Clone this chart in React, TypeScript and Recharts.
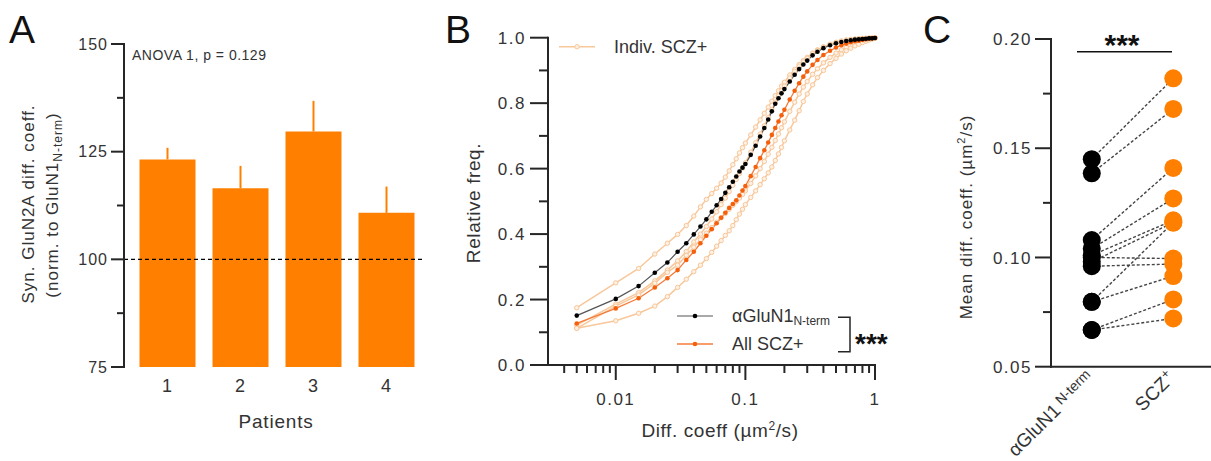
import React from 'react';
import { BarChart, Bar, XAxis, YAxis, ReferenceLine, ErrorBar, LineChart, Line } from 'recharts';

const FONT = '"Liberation Sans", Arial, Helvetica, sans-serif';
const AXIS = '#262626';
const TXT = '#333333';
const BAR = '#FF8000';
const LIGHT = '#F8C79A';
const ORANGE_LINE = '#F47B3A';
const ORANGE_DOT = '#F4600C';

// ---------- Panel A ----------
const patients = ['1', '2', '3', '4'];
const patientMeans = [123.2, 116.5, 129.7, 110.8];
const patientSem = [2.7, 5.2, 7.1, 6.1];
const aDomain = [75, 150];
const aTicks = [75, 87.5, 100, 112.5, 125, 137.5, 150];
const aMajorTicks = [75, 100, 125, 150];

// ---------- Panel B ----------
const diffX = [
  0.005, 0.01, 0.015, 0.02, 0.025, 0.03, 0.035, 0.04, 0.045, 0.05,
  0.055, 0.06, 0.065, 0.07, 0.075, 0.08, 0.085, 0.09, 0.095, 0.1,
  0.11, 0.12, 0.13, 0.14, 0.15, 0.16, 0.17, 0.18, 0.19, 0.2,
  0.22, 0.24, 0.26, 0.28, 0.3, 0.33, 0.36, 0.4, 0.45, 0.5,
  0.55, 0.6, 0.65, 0.7, 0.75, 0.8, 0.85, 0.9, 0.95, 1.0,
];
const cdfGluN1 = [
  0.151, 0.202, 0.241, 0.282, 0.313, 0.346, 0.372, 0.399, 0.423, 0.445,
  0.468, 0.488, 0.507, 0.526, 0.543, 0.560, 0.576, 0.591, 0.603, 0.614,
  0.642, 0.670, 0.698, 0.724, 0.750, 0.775, 0.798, 0.815, 0.830, 0.843,
  0.866, 0.887, 0.904, 0.918, 0.930, 0.946, 0.957, 0.968, 0.977, 0.983,
  0.987, 0.990, 0.992, 0.994, 0.995, 0.996, 0.997, 0.998, 0.998, 0.999,
];
const cdfAllScz = [
  0.127, 0.173, 0.204, 0.237, 0.265, 0.290, 0.321, 0.346, 0.372, 0.395,
  0.415, 0.433, 0.450, 0.465, 0.480, 0.492, 0.503, 0.518, 0.533, 0.547,
  0.577, 0.605, 0.632, 0.656, 0.680, 0.703, 0.724, 0.744, 0.763, 0.780,
  0.811, 0.838, 0.861, 0.881, 0.897, 0.917, 0.932, 0.947, 0.960, 0.970,
  0.977, 0.982, 0.986, 0.989, 0.991, 0.993, 0.995, 0.997, 0.998, 0.999,
];
const cdfIndiv1 = [
  0.175, 0.251, 0.295, 0.339, 0.372, 0.399, 0.426, 0.455, 0.483, 0.506,
  0.524, 0.540, 0.556, 0.574, 0.593, 0.612, 0.630, 0.648, 0.664, 0.678,
  0.703, 0.727, 0.749, 0.769, 0.788, 0.806, 0.823, 0.838, 0.852, 0.864,
  0.886, 0.903, 0.918, 0.930, 0.940, 0.953, 0.963, 0.972, 0.980, 0.986,
  0.990, 0.993, 0.995, 0.996, 0.997, 0.998, 0.998, 0.999, 0.999, 1.0,
];
const cdfIndiv2 = [
  0.122, 0.186, 0.221, 0.257, 0.290, 0.318, 0.347, 0.376, 0.400, 0.423,
  0.446, 0.468, 0.490, 0.510, 0.530, 0.549, 0.567, 0.585, 0.602, 0.618,
  0.650, 0.679, 0.706, 0.731, 0.756, 0.780, 0.803, 0.822, 0.838, 0.852,
  0.877, 0.897, 0.913, 0.926, 0.937, 0.951, 0.961, 0.971, 0.979, 0.985,
  0.989, 0.992, 0.994, 0.995, 0.996, 0.997, 0.998, 0.998, 0.999, 1.0,
];
const cdfIndiv3 = [
  0.112, 0.180, 0.214, 0.250, 0.283, 0.305, 0.335, 0.360, 0.383, 0.403,
  0.420, 0.436, 0.450, 0.463, 0.476, 0.488, 0.499, 0.510, 0.521, 0.532,
  0.555, 0.578, 0.600, 0.622, 0.644, 0.665, 0.686, 0.706, 0.725, 0.743,
  0.775, 0.803, 0.828, 0.849, 0.866, 0.888, 0.905, 0.923, 0.940, 0.953,
  0.963, 0.971, 0.977, 0.982, 0.986, 0.989, 0.992, 0.995, 0.997, 0.999,
];
const cdfIndiv4 = [
  0.112, 0.135, 0.158, 0.180, 0.209, 0.237, 0.262, 0.285, 0.305, 0.325,
  0.344, 0.363, 0.380, 0.396, 0.410, 0.426, 0.444, 0.461, 0.476, 0.490,
  0.512, 0.532, 0.551, 0.569, 0.587, 0.605, 0.625, 0.645, 0.665, 0.685,
  0.718, 0.748, 0.777, 0.805, 0.828, 0.856, 0.878, 0.900, 0.921, 0.937,
  0.950, 0.960, 0.968, 0.975, 0.980, 0.985, 0.989, 0.993, 0.996, 0.998,
];
const bXDomain = [0.003, 1];
const bYDomain = [0, 1];
const bXTicks = [
  0.004, 0.005, 0.006, 0.007, 0.008, 0.009, 0.01,
  0.02, 0.03, 0.04, 0.05, 0.06, 0.07, 0.08, 0.09, 0.1,
  0.2, 0.3, 0.4, 0.5, 0.6, 0.7, 0.8, 0.9, 1,
];
const bXMajor = [0.01, 0.1, 1];
const bYTicks = [0, 0.1, 0.2, 0.3, 0.4, 0.5, 0.6, 0.7, 0.8, 0.9, 1.0];
const bYMajor = [0, 0.2, 0.4, 0.6, 0.8, 1.0];

// ---------- Panel C ----------
const pairGluN1 = [0.145, 0.1385, 0.108, 0.104, 0.101, 0.098, 0.100, 0.096, 0.0797, 0.0797, 0.0668, 0.0668];
const pairScz = [0.182, 0.168, 0.141, 0.127, 0.117, 0.116, 0.0995, 0.097, 0.116, 0.0915, 0.0808, 0.0721];
const cGroups = [1, 2];
const cXDomain = [0.5, 2.45];
const cYDomain = [0.05, 0.2];
const cYTicks = [0.05, 0.075, 0.1, 0.125, 0.15, 0.175, 0.2];
const cYMajor = [0.05, 0.1, 0.15, 0.2];

// ---------- layout (chart boxes) ----------
const A_BOX = { left: 0, width: 440, height: 461, margin: { top: 44, right: 17.5, bottom: 64, left: 64 }, yAxisW: 60, xAxisH: 30 };
const B_BOX = { left: 440, width: 460, height: 461, margin: { top: 37.7, right: 25, bottom: 56, left: 48 }, yAxisW: 60, xAxisH: 40 };
const C_BOX = { left: 900, width: 311, height: 461, margin: { top: 39, right: 1, bottom: 34.3, left: 91 }, yAxisW: 60, xAxisH: 60 };

const plotRect = (b: any) => {
  const x0 = b.left + b.margin.left + b.yAxisW;
  const x1 = b.left + b.width - b.margin.right;
  const y0 = b.margin.top;
  const y1 = b.height - b.margin.bottom - b.xAxisH;
  return { x0, x1, y0, y1 };
};
const PA = plotRect(A_BOX);
const PB = plotRect(B_BOX);
const PC = plotRect(C_BOX);
const linY = (p: any, d: number[]) => (v: number) => p.y0 + ((d[1] - v) / (d[1] - d[0])) * (p.y1 - p.y0);
const logX = (p: any, d: number[]) => (v: number) =>
  p.x0 + ((Math.log10(v) - Math.log10(d[0])) / (Math.log10(d[1]) - Math.log10(d[0]))) * (p.x1 - p.x0);
const yA = linY(PA, aDomain);
const yB = linY(PB, bYDomain);
const xB = logX(PB, bXDomain);
const yC = linY(PC, cYDomain);

// ---------- derived tables ----------
const barRows = patients.map((p, i) => ({ patient: p, mean: patientMeans[i], err: [0, patientSem[i]] }));
const cdfRows = diffX.map((x, i) => ({
  x,
  glun1: cdfGluN1[i],
  all: cdfAllScz[i],
  s1: cdfIndiv1[i],
  s2: cdfIndiv2[i],
  s3: cdfIndiv3[i],
  s4: cdfIndiv4[i],
}));
const pairRows = cGroups.map((g) => {
  const row: any = { x: g };
  pairGluN1.forEach((v, i) => {
    row[`p${i}`] = g === 1 ? v : pairScz[i];
  });
  return row;
});

const isIn = (list: number[], v: number) => list.some((m) => Math.abs(m - v) < 1e-9);

// y-axis tick labels (tickSize = len, tickMargin = 0 => axisX = x + len)
const makeYLabel = (major: number[], len: number, gap: number, fmt: (v: number) => string, fs: number, ls: number) =>
  (props: any) => {
    const { x, y, payload, index } = props;
    const axisX = Number(x) + len;
    if (!isIn(major, payload.value)) return <g key={`yt${index}`} />;
    return (
      <text key={`yt${index}`} x={axisX - gap} y={Number(y)} dy="0.36em" textAnchor="end" fontSize={fs} fill={TXT} stroke="none" fontFamily={FONT} style={{ letterSpacing: ls }}>
        {fmt(payload.value)}
      </text>
    );
  };

const aYTick = makeYLabel(aMajorTicks, 13, 16, (v) => String(v), 16, 1);
const bYTick = makeYLabel(bYMajor, 18, 22, (v) => v.toFixed(1), 17, 1.5);
const cYTick = makeYLabel(cYMajor, 16, 19, (v) => v.toFixed(2), 17, 1.5);

const aXTick = (props: any) => {
  const { x, y, payload, index } = props;
  return (
    <text key={`ax${index}`} x={x} y={Number(y) + 24.5} textAnchor="middle" fontSize={18} fill={TXT} stroke="none" fontFamily={FONT}>
      {payload.value}
    </text>
  );
};

const bXTick = (props: any) => {
  const { x, y, payload, index } = props;
  const axisY = Number(y) - 15;
  if (!isIn(bXMajor, payload.value)) return <g key={`bx${index}`} />;
  return (
    <text key={`bx${index}`} x={Number(x)} y={axisY + 40} textAnchor="middle" fontSize={17} fill={TXT} stroke="none" fontFamily={FONT} style={{ letterSpacing: 1.5 }}>
      {String(payload.value)}
    </text>
  );
};

const cXTick = (props: any) => {
  const { x, y, payload, index } = props;
  const tx = Number(x) + 3;
  const ty = Number(y) + 12;
  if (payload.value === 1) {
    return (
      <text key={`cx${index}`} x={tx} y={ty} textAnchor="end" transform={`rotate(-45, ${tx}, ${ty})`} fontSize={19} fill={TXT} stroke="none" fontFamily={FONT}>
        αGluN1
        <tspan fontSize={14} dx={4} dy={-5}>N-term</tspan>
      </text>
    );
  }
  return (
    <text key={`cx${index}`} x={tx} y={ty} textAnchor="end" transform={`rotate(-45, ${tx}, ${ty})`} fontSize={19} fill={TXT} stroke="none" fontFamily={FONT} style={{ letterSpacing: 0.5 }}>
      SCZ
      <tspan fontSize={13} dy={-7}>+</tspan>
    </text>
  );
};

const cDot = (props: any) => {
  const { cx, cy, payload, index } = props;
  if (cx == null || cy == null) return <g key={`cd${index}`} />;
  return <circle key={`cd${index}`} cx={cx} cy={cy} r={9} fill={payload.x === 1 ? '#000000' : BAR} />;
};

const lightDot = { r: 2.2, fill: '#FFF1E4', stroke: LIGHT, strokeWidth: 1 };

// axis guides (lines + tick marks) drawn on top
const YGuide = ({ p, ticks, major, scale, len, minorLen }: any) => (
  <g stroke={AXIS} strokeWidth={2} fill="none">
    <line x1={p.x0} x2={p.x0} y1={p.y0} y2={p.y1} strokeLinecap="square" />
    {ticks.map((t: number, i: number) => {
      const L = isIn(major, t) ? len : minorLen;
      return <line key={i} x1={p.x0 - L} x2={p.x0} y1={scale(t)} y2={scale(t)} />;
    })}
  </g>
);

export default function App() {
  return (
    <div style={{ position: 'absolute', left: 0, top: 0, width: 1211, height: 461, overflow: 'hidden', background: '#ffffff', fontFamily: FONT }}>
      {/* Panel A */}
      <div style={{ position: 'absolute', left: A_BOX.left, top: 0 }}>
        <BarChart width={A_BOX.width} height={A_BOX.height} data={barRows} margin={A_BOX.margin}>
          <XAxis dataKey="patient" axisLine={false} tickLine={false} tickSize={0} tickMargin={0} height={A_BOX.xAxisH} padding={{ left: 6.5, right: 0 }} interval={0} tick={aXTick} />
          <YAxis type="number" domain={aDomain} ticks={aTicks} interval={0} width={A_BOX.yAxisW} tickSize={13} tickMargin={0} tickLine={false} axisLine={false} tick={aYTick} />
          <Bar dataKey="mean" fill={BAR} barSize={56} isAnimationActive={false}>
            <ErrorBar dataKey="err" direction="y" width={0} stroke={BAR} strokeWidth={2} />
          </Bar>
          <ReferenceLine y={100} stroke="#000000" strokeDasharray="4 3" strokeWidth={1.2} />
        </BarChart>
      </div>

      {/* Panel B */}
      <div style={{ position: 'absolute', left: B_BOX.left, top: 0 }}>
        <LineChart width={B_BOX.width} height={B_BOX.height} data={cdfRows} margin={B_BOX.margin}>
          <XAxis dataKey="x" type="number" scale="log" domain={bXDomain} ticks={bXTicks} interval={0} height={B_BOX.xAxisH} tickSize={15} tickMargin={0} tickLine={false} axisLine={false} tick={bXTick} />
          <YAxis type="number" domain={bYDomain} ticks={bYTicks} interval={0} width={B_BOX.yAxisW} tickSize={18} tickMargin={0} tickLine={false} axisLine={false} tick={bYTick} />
          <Line dataKey="s1" stroke={LIGHT} strokeWidth={1.5} dot={lightDot} isAnimationActive={false} />
          <Line dataKey="s2" stroke={LIGHT} strokeWidth={1.5} dot={lightDot} isAnimationActive={false} />
          <Line dataKey="s3" stroke={LIGHT} strokeWidth={1.5} dot={lightDot} isAnimationActive={false} />
          <Line dataKey="s4" stroke={LIGHT} strokeWidth={1.5} dot={lightDot} isAnimationActive={false} />
          <Line dataKey="all" stroke={ORANGE_LINE} strokeWidth={1.3} dot={{ r: 2.3, fill: ORANGE_DOT, stroke: 'none' }} isAnimationActive={false} />
          <Line dataKey="glun1" stroke="#555555" strokeWidth={1.2} dot={{ r: 2.3, fill: '#000000', stroke: 'none' }} isAnimationActive={false} />
        </LineChart>
      </div>

      {/* Panel C */}
      <div style={{ position: 'absolute', left: C_BOX.left, top: 0 }}>
        <LineChart width={C_BOX.width} height={C_BOX.height} data={pairRows} margin={C_BOX.margin}>
          <XAxis dataKey="x" type="number" domain={cXDomain} ticks={cGroups} interval={0} height={C_BOX.xAxisH} tickSize={0} tickMargin={0} tickLine={false} axisLine={false} tick={cXTick} />
          <YAxis type="number" domain={cYDomain} ticks={cYTicks} interval={0} width={C_BOX.yAxisW} tickSize={16} tickMargin={0} tickLine={false} axisLine={false} tick={cYTick} />
          {pairGluN1.map((_, i) => (
            <Line key={`l${i}`} dataKey={`p${i}`} stroke="#444444" strokeWidth={1.4} strokeDasharray="3 2" dot={false} isAnimationActive={false} />
          ))}
          {pairGluN1.map((_, i) => (
            <Line key={`d${i}`} dataKey={`p${i}`} stroke="none" dot={cDot} isAnimationActive={false} />
          ))}
        </LineChart>
      </div>

      {/* Overlay: axis guides and texts */}
      <svg width={1211} height={461} style={{ position: 'absolute', left: 0, top: 0, pointerEvents: 'none' }} fontFamily={FONT}>
        <YGuide p={PA} ticks={aTicks} major={aMajorTicks} scale={yA} len={13} minorLen={7} />
        <YGuide p={PB} ticks={bYTicks} major={bYMajor} scale={yB} len={18} minorLen={9} />
        <YGuide p={PC} ticks={cYTicks} major={cYMajor} scale={yC} len={16} minorLen={8} />
        <g stroke={AXIS} strokeWidth={2} fill="none">
          <line x1={PB.x0} x2={PB.x1} y1={PB.y1} y2={PB.y1} strokeLinecap="square" />
          {bXTicks.map((t, i) => (
            <line key={i} x1={xB(t)} x2={xB(t)} y1={PB.y1} y2={PB.y1 + (isIn(bXMajor, t) ? 15 : 8)} />
          ))}
          <line x1={PC.x0} x2={PC.x1} y1={PC.y1} y2={PC.y1} strokeLinecap="square" />
        </g>

        <text x={9} y={43} fontSize={39} fill="#111">A</text>
        <text x={445} y={43} fontSize={39} fill="#111">B</text>
        <text x={923} y={43} fontSize={39} fill="#111">C</text>

        {/* Panel A texts */}
        <text x={132} y={60} fontSize={14} fill={TXT} style={{ letterSpacing: 0.5 }}>ANOVA 1, p = 0.129</text>
        <text x={34} y={204} transform="rotate(-90, 34, 204)" textAnchor="middle" fontSize={17} fill={TXT} style={{ letterSpacing: 1 }}>
          Syn. GluN2A diff. coeff.
        </text>
        <text x={58} y={205} transform="rotate(-90, 58, 205)" textAnchor="middle" fontSize={17} fill={TXT} style={{ letterSpacing: 1 }}>
          (norm. to GluN1
          <tspan fontSize={12} dy={4}>N-term</tspan>
          <tspan dy={-4}>)</tspan>
        </text>
        <text x={276} y={427.5} textAnchor="middle" fontSize={19} fill={TXT} style={{ letterSpacing: 0.8 }}>Patients</text>

        {/* Panel B texts */}
        <text x={480} y={203} transform="rotate(-90, 480, 203)" textAnchor="middle" fontSize={19} fill={TXT} style={{ letterSpacing: 0.6 }}>Relative freq.</text>
        <text x={720} y={436.5} textAnchor="middle" fontSize={19} fill={TXT} style={{ letterSpacing: 0.6 }}>
          Diff. coeff (µm
          <tspan fontSize={12} dy={-7}>2</tspan>
          <tspan dy={7}>/s)</tspan>
        </text>
        <line x1={559} x2={595} y1={46.7} y2={46.7} stroke={LIGHT} strokeWidth={1.5} />
        <circle cx={577} cy={46.7} r={2.2} fill="#FFF1E4" stroke={LIGHT} strokeWidth={1} />
        <text x={614} y={53} fontSize={18} fill={TXT}>Indiv. SCZ+</text>
        <line x1={677} x2={713} y1={316} y2={316} stroke="#555555" strokeWidth={1.2} />
        <circle cx={695} cy={316} r={2.3} fill="#000" />
        <text x={732} y={322} fontSize={18} fill={TXT}>
          αGluN1
          <tspan fontSize={12} dy={3}>N-term</tspan>
        </text>
        <line x1={677} x2={713} y1={344} y2={344} stroke={ORANGE_LINE} strokeWidth={1.3} />
        <circle cx={695} cy={344} r={2.3} fill={ORANGE_DOT} />
        <text x={732} y={350} fontSize={18} fill={TXT}>All SCZ+</text>
        <path d="M838 317.3 H850 V351.7 H838" fill="none" stroke={AXIS} strokeWidth={1.5} />
        <text x={855} y={353} fontSize={28} fontWeight="bold" fill="#111">***</text>

        {/* Panel C texts */}
        <text x={972} y={217} transform="rotate(-90, 972, 217)" textAnchor="middle" fontSize={17} fill={TXT} style={{ letterSpacing: 1 }}>
          Mean diff. coeff. (µm
          <tspan fontSize={11} dy={-7}>2</tspan>
          <tspan dy={7}>/s)</tspan>
        </text>
        <text x={1122} y={54.6} textAnchor="middle" fontSize={30} fontWeight="bold" fill="#111">***</text>
        <line x1={1077} x2={1172} y1={51.7} y2={51.7} stroke="#111" strokeWidth={1.5} />
      </svg>
    </div>
  );
}
